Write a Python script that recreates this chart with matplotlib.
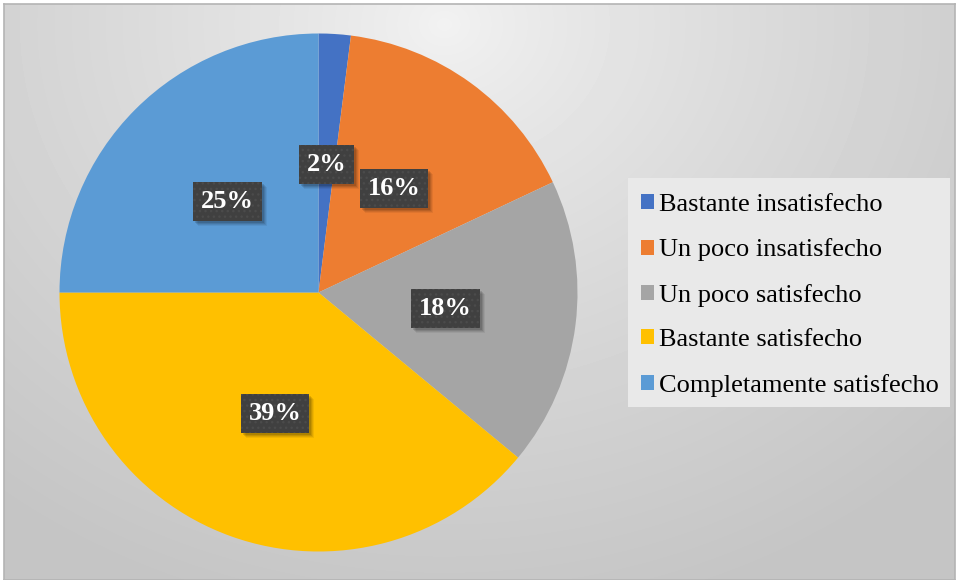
import numpy as np
import matplotlib
matplotlib.use("Agg")
import matplotlib.pyplot as plt
from matplotlib.patches import Rectangle

# Satisfaction survey results
categories = ["Bastante insatisfecho", "Un poco insatisfecho", "Un poco satisfecho",
              "Bastante satisfecho", "Completamente satisfecho"]
values = [2, 16, 18, 39, 25]
colors = ["#4472C4", "#ED7D31", "#A5A5A5", "#FFC000", "#5B9BD5"]

W, H = 959, 580
fig = plt.figure(figsize=(W / 100, H / 100), dpi=100, facecolor="white")


def px_rect(x0, y0, x1, y1, **kw):
    # rectangle given in pixels from the top-left corner of the figure
    return Rectangle((x0 / W, 1 - y1 / H), (x1 - x0) / W, (y1 - y0) / H,
                     transform=fig.transFigure, **kw)


# Grey radial backdrop of the chart area
bg = fig.add_axes([4 / W, 0, 951 / W, 576 / H])
yy, xx = np.mgrid[0:576, 0:951]
d = np.sqrt(((xx - 440) / 1.0) ** 2 + ((yy - 20) / 0.85) ** 2)
t = np.clip(d / 720, 0, 1) ** 0.8
shade = 0.95 - (0.95 - 0.77) * t
bg.imshow(shade, cmap="gray", vmin=0, vmax=1, aspect="auto", interpolation="bilinear")
bg.set_xticks([])
bg.set_yticks([])
for s in bg.spines.values():
    s.set_color("#b4b4b4")
    s.set_linewidth(1.2)

# Pie, starting at 12 o'clock going clockwise
cx, cy, r = 318.5, 292.5, 259
ax = fig.add_axes([(cx - r) / W, (H - cy - r) / H, 2 * r / W, 2 * r / H])
ax.set_facecolor("none")
wedges, _ = ax.pie(values, colors=colors, startangle=90, counterclock=False,
                   wedgeprops=dict(linewidth=0))
ax.set_xlim(-1, 1)
ax.set_ylim(-1, 1)
ax.set_aspect("equal")
ax.axis("off")

labels = []
for w, v in zip(wedges, values):
    ang = np.deg2rad((w.theta1 + w.theta2) / 2)
    x, y = 0.495 * np.cos(ang), 0.495 * np.sin(ang)
    txt = ax.text(x, y, f"{v}%", ha="center", va="center", color="white",
                  fontsize=19, fontweight="bold", family="Liberation Serif", zorder=5,
                  bbox=dict(boxstyle="square,pad=0.3", facecolor="#404040",
                            edgecolor="#4b4b4b", linewidth=0, hatch="..."))
    labels.append(txt)

# soft drop shadows behind the label boxes
fig.canvas.draw()
for txt in labels:
    bb = txt.get_bbox_patch().get_window_extent()
    x0, x1 = bb.x0, bb.x1
    y0, y1 = H - bb.y1, H - bb.y0
    for k, a in [(5, 0.06), (4, 0.08), (3, 0.1), (2, 0.12)]:
        ax.add_artist(px_rect(x0 + k, y0 + k, x1 + k, y1 + k, facecolor="black",
                              edgecolor="none", alpha=a, zorder=4))

# legend panel
fig.add_artist(px_rect(628, 178, 950, 407, facecolor="#e9e9e9", edgecolor="none"))
leg = fig.legend(wedges, categories, loc="upper left",
                 bbox_to_anchor=(641 / W, 1 - 194 / H), borderaxespad=0, borderpad=0,
                 prop=dict(family="Liberation Serif", size=19), frameon=False,
                 handlelength=0.5, handleheight=0.5, handletextpad=0.2,
                 labelspacing=0.85)

fig.savefig("out.png", dpi=100)
